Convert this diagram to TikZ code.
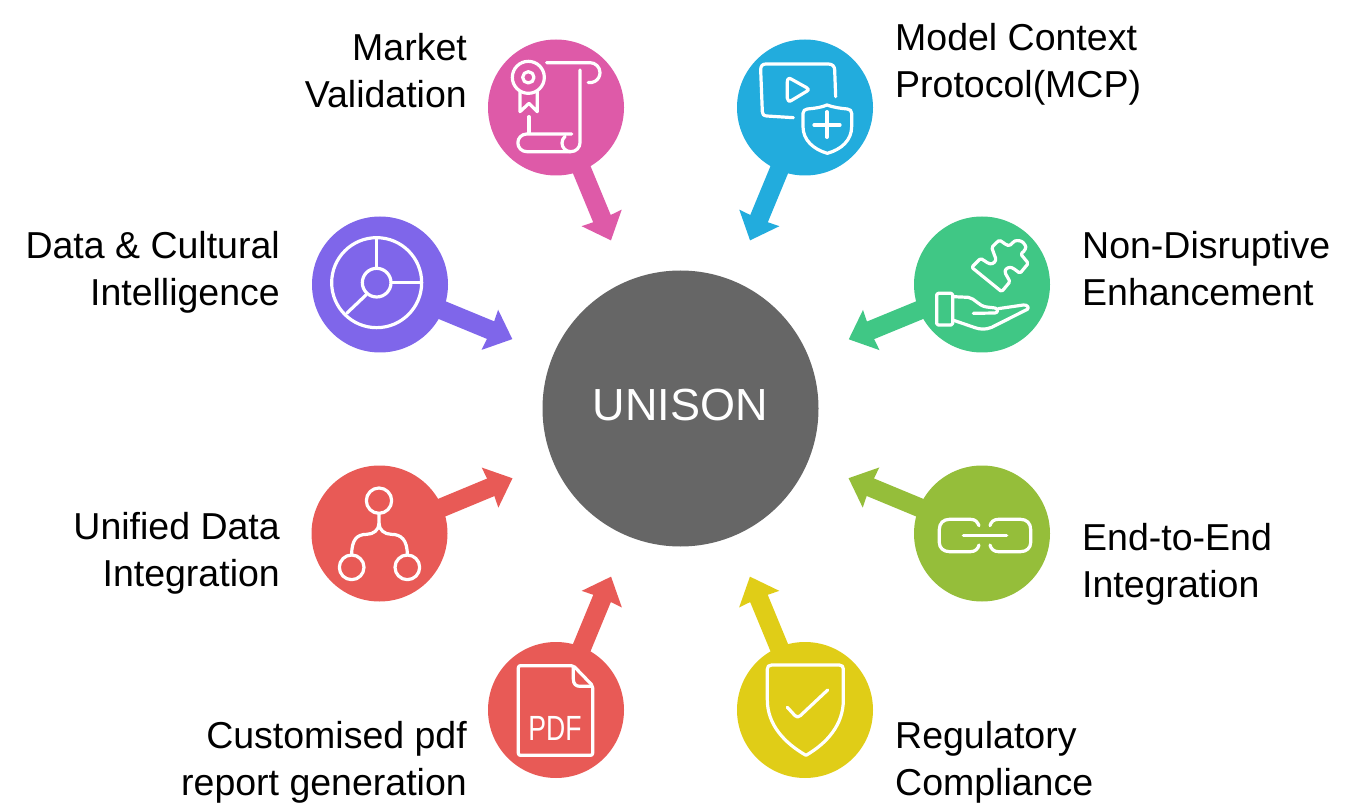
\documentclass[tikz,border=0pt]{standalone}
\usepackage{fontspec}
\setmainfont{Liberation Sans}
\usetikzlibrary{arrows.meta}
\definecolor{cpink}{HTML}{DE5AA8}
\definecolor{cblue}{HTML}{22ACDD}
\definecolor{cpurple}{HTML}{7F66EA}
\definecolor{cgreen}{HTML}{40C785}
\definecolor{cred}{HTML}{E85A56}
\definecolor{clime}{HTML}{95BE3A}
\definecolor{cyellow}{HTML}{E0CD17}
\definecolor{chub}{HTML}{666666}
\tikzset{
  spoke/.style={circle,fill=#1,draw=none,minimum size=136pt,inner sep=0pt},
  hubnode/.style={circle,fill=chub,draw=none,minimum size=276pt,inner sep=0pt,text=white,text depth=7pt,font=\fontsize{45}{54}\selectfont},
  link/.style={draw=#1,line width=19pt,shorten <=-2pt,shorten >=43.7pt,
    -{Stealth[length=24pt,width=42pt,inset=1pt]}},
  icon/.style={draw=white,line width=3.2pt,line cap=round,line join=round},
  lbl/.style={font=\fontsize{37.5}{47}\selectfont,text=black,inner sep=0pt},
  lblL/.style={lbl,align=right,anchor=base east},
  lblR/.style={lbl,align=left,anchor=base west},
  zoomed/.style={shift={#1},x=.33333pt,y=-.33333pt}
}
\begin{document}
\begin{tikzpicture}[x=1pt,y=-1pt]
\useasboundingbox (0,0) rectangle (1358,810);
\node[hubnode] (hub) at (680.5,408.5) {UNISON};
\node[spoke=cpink] (market) at (556,107.5) {};
\node[spoke=cblue] (mcp) at (805,107.5) {};
\node[spoke=cpurple] (data) at (380,284.5) {};
\node[spoke=cgreen] (nondis) at (982,284.5) {};
\node[spoke=cred] (unified) at (379.5,533.5) {};
\node[spoke=clime] (endtoend) at (982,533.5) {};
\node[spoke=cred] (pdf) at (556,710) {};
\node[spoke=cyellow] (reg) at (805,710) {};
\draw[link=cpink] (market) -- (hub);
\draw[link=cblue] (mcp) -- (hub);
\draw[link=cpurple] (data) -- (hub);
\draw[link=cgreen] (nondis) -- (hub);
\draw[link=cred] (unified) -- (hub);
\draw[link=clime] (endtoend) -- (hub);
\draw[link=cred] (pdf) -- (hub);
\draw[link=cyellow] (reg) -- (hub);
% labels (anchor is the baseline of the last line)
\node[lblL] (t1) at (467,108) {Market\\Validation};
\node[lblR] (t2) at (895,98) {Model Context\\Protocol(MCP)};
\node[lblL] (t3) at (280,306) {Data \& Cultural\\Intelligence};
\node[lblR] (t4) at (1082,306) {Non-Disruptive\\Enhancement};
\node[lblL] (t5) at (280,586) {Unified Data\\Integration};
\node[lblR] (t6) at (1082,597) {End-to-End\\Integration};
\node[lblL] (t7) at (467,795) {Customised pdf\\report generation};
\node[lblR] (t8) at (895,795) {Regulatory\\Compliance};
% pink icon
\begin{scope}[zoomed={(480,20)}]
\draw[icon] (145,172) circle (48);
\draw[icon] (145,172) circle (17);
\draw[icon] (120,215) -- (120,275) -- (147,250) -- (172,275) -- (172,215);
\draw[icon] (147,290) -- (147,340);
\draw[icon] (200,128) -- (330,128) arc[start angle=270,end angle=460,radius=30];
\draw[icon] (300,150) -- (300,368) arc[start angle=0,end angle=90,radius=27] -- (140,395) arc[start angle=90,end angle=270,radius=26.5] -- (275,342);
\draw[icon] (272,395) arc[start angle=90,end angle=230,radius=26];
\end{scope}
% blue icon
\begin{scope}[zoomed={(730,20)}]
\draw[icon] (190,293) -- (110,288) .. controls (100,287) and (97,282) .. (97,275) -- (92,150) .. controls (92,138) and (97,132) .. (108,132) -- (295,132) .. controls (308,132) and (314,140) .. (314,150) -- (317,230);
\draw[icon] (172,185) .. controls (172,175) and (178,173) .. (185,178) -- (230,203) .. controls (237,208) and (237,210) .. (230,214) -- (185,241) .. controls (178,246) and (172,243) .. (172,235) -- cycle;
\draw[icon] (219,280) .. controls (219,272) and (225,268) .. (232,267) .. controls (255,265) and (275,262) .. (291,255) .. controls (310,262) and (330,265) .. (352,267) .. controls (360,268) and (365,272) .. (365,280) -- (365,320) .. controls (365,360) and (335,388) .. (292,400) .. controls (250,388) and (219,360) .. (219,320) -- cycle;
\draw[icon] (252,315) -- (330,315);
\draw[icon] (291,275) -- (291,352);
\end{scope}
% purple icon
\begin{scope}[zoomed={(300,210)}]
\draw[icon] (230,218) circle (135);
\draw[icon] (230,218) circle (43);
\draw[icon] (230,85) -- (230,175);
\draw[icon] (273,218) -- (362,218);
\draw[icon] (198,255) -- (140,310);
\end{scope}
% green icon
\begin{scope}[zoomed={(930,230)}]
\draw[icon,rounded corners=1.5pt] (125,112) -- (152,85) -- (175,100) .. controls (190,104) and (200,92) .. (195,80) -- (185,52) -- (208,30) -- (230,45) .. controls (240,48) and (245,42) .. (250,35) .. controls (262,30) and (275,32) .. (283,42) .. controls (290,52) and (285,62) .. (272,72) -- (295,100) -- (270,130) -- (250,115) .. controls (238,110) and (226,115) .. (225,128) -- (240,155) -- (215,185) -- cycle;
\draw[icon,rounded corners=1.5pt] (20,190) rectangle (68,285);
\draw[icon] (68,200) -- (115,202) .. controls (135,205) and (145,228) .. (170,231) -- (195,234) .. controls (205,236) and (205,248) .. (195,249) -- (130,250);
\draw[icon] (205,236) -- (280,225) .. controls (292,224) and (298,232) .. (292,238) -- (185,292) .. controls (165,300) and (150,298) .. (135,293) -- (68,270);
\end{scope}
% red network icon
\begin{scope}[zoomed={(300,460)}]
\draw[icon] (237,122) circle (38);
\draw[icon] (155,322) circle (37);
\draw[icon] (322,322) circle (37);
\draw[icon] (237,160) -- (237,190) .. controls (237,210) and (220,223) .. (200,223) .. controls (170,223) and (155,240) .. (155,285);
\draw[icon] (237,190) .. controls (237,210) and (254,223) .. (274,223) .. controls (304,223) and (322,240) .. (322,285);
\end{scope}
% lime icon
\begin{scope}[zoomed={(840,460)}]
\draw[icon] (417,197) .. controls (412,185) and (405,178) .. (392,178) -- (328,178) .. controls (310,178) and (298,190) .. (298,208) -- (298,248) .. controls (298,263) and (310,275) .. (328,275) -- (392,275) .. controls (405,275) and (414,267) .. (417,255);
\draw[icon] (450,197) .. controls (453,185) and (462,178) .. (475,178) -- (542,178) .. controls (560,178) and (572,190) .. (572,208) -- (572,248) .. controls (572,263) and (560,275) .. (542,275) -- (475,275) .. controls (462,275) and (453,267) .. (450,255);
\draw[icon] (370,226) -- (500,226);
\end{scope}
% pdf icon
\begin{scope}[zoomed={(480,570)}]
\draw[icon,rounded corners=2pt] (115,287) -- (280,287) -- (338,347) -- (338,556) -- (115,556) -- cycle;
\draw[icon] (280,290) -- (280,328) .. controls (280,342) and (288,349) .. (300,349) -- (336,349);
\node[text=white,font=\fontsize{35}{35}\selectfont,anchor=base,inner sep=0pt] (pdflbl) at (225,512) {\scalebox{.76}[1]{PDF}};
\end{scope}
% yellow icon
\begin{scope}[zoomed={(730,570)}]
\draw[icon] (125,285) -- (328,285) .. controls (336,285) and (340,290) .. (340,297) -- (340,390) .. controls (340,465) and (290,520) .. (228,556) .. controls (165,520) and (112,465) .. (112,390) -- (112,297) .. controls (112,290) and (116,285) .. (125,285) -- cycle;
\draw[icon] (172,412) -- (195,437) .. controls (200,442) and (206,442) .. (211,437) -- (293,360);
\end{scope}
\end{tikzpicture}
\end{document}
